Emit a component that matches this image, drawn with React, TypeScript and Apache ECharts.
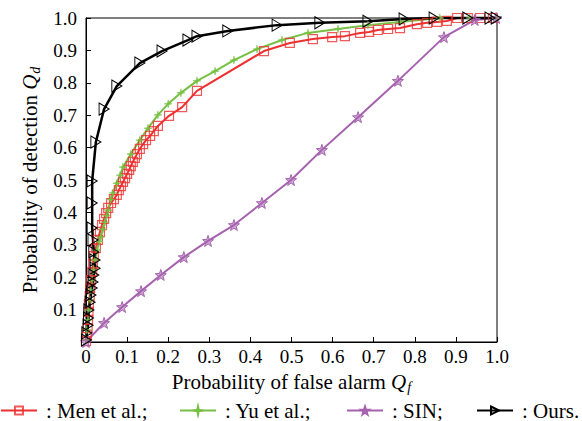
import React, { useEffect, useRef } from "react";
import * as echarts from "echarts";

const FONT = "Liberation Serif";

const xTicks = [0, 0.1, 0.2, 0.3, 0.4, 0.5, 0.6, 0.7, 0.8, 0.9, 1.0];
const yTicks = [0.1, 0.2, 0.3, 0.4, 0.5, 0.6, 0.7, 0.8, 0.9, 1.0];

const seriesNames = [": Men et al.;", ": Yu et al.;", ": SIN;", ": Ours."];

const menData = [
  [0, 0.003], [0.002, 0.022], [0.004, 0.043], [0.005, 0.068], [0.006, 0.093],
  [0.007, 0.117], [0.009, 0.142], [0.010, 0.167], [0.012, 0.191], [0.015, 0.216],
  [0.017, 0.241], [0.019, 0.265], [0.024, 0.290], [0.029, 0.315], [0.034, 0.340],
  [0.039, 0.361], [0.044, 0.380], [0.049, 0.398], [0.054, 0.414], [0.061, 0.429],
  [0.068, 0.441], [0.075, 0.454], [0.080, 0.469], [0.085, 0.481], [0.090, 0.494],
  [0.095, 0.506], [0.100, 0.519], [0.105, 0.531], [0.109, 0.543], [0.114, 0.556],
  [0.119, 0.568], [0.124, 0.580], [0.131, 0.596], [0.139, 0.611], [0.146, 0.623],
  [0.156, 0.636], [0.165, 0.651], [0.175, 0.667], [0.202, 0.698], [0.234, 0.725],
  [0.270, 0.775], [0.433, 0.898], [0.496, 0.923], [0.552, 0.935], [0.599, 0.941],
  [0.630, 0.944], [0.667, 0.954], [0.689, 0.957], [0.710, 0.963], [0.735, 0.966],
  [0.764, 0.969], [0.805, 0.981], [0.830, 0.985], [0.854, 0.988], [0.878, 0.991],
  [0.903, 1.0], [0.929, 1.0], [0.959, 1.0], [0.990, 1.0],
];

const yuData = [
  [0, 0.006], [0.002, 0.037], [0.005, 0.068], [0.007, 0.099], [0.010, 0.130],
  [0.012, 0.160], [0.015, 0.191], [0.019, 0.222], [0.022, 0.253], [0.027, 0.284],
  [0.032, 0.310], [0.036, 0.324], [0.041, 0.348], [0.046, 0.370], [0.050, 0.390],
  [0.054, 0.407], [0.060, 0.440], [0.066, 0.460], [0.075, 0.490], [0.083, 0.515],
  [0.090, 0.540], [0.109, 0.580], [0.131, 0.623], [0.151, 0.660], [0.175, 0.701],
  [0.200, 0.735], [0.231, 0.769], [0.270, 0.806], [0.314, 0.836], [0.360, 0.870],
  [0.416, 0.904], [0.477, 0.932], [0.540, 0.954], [0.613, 0.966], [0.686, 0.978],
  [0.764, 0.988], [0.861, 1.0], [0.934, 1.0], [0.998, 1.0],
];

const sinData = [
  [0, 0], [0.044, 0.059], [0.088, 0.108], [0.134, 0.157], [0.182, 0.207],
  [0.238, 0.262], [0.297, 0.312], [0.360, 0.361], [0.428, 0.429], [0.499, 0.5],
  [0.574, 0.593], [0.662, 0.694], [0.759, 0.806], [0.871, 0.941], [0.946, 0.994],
  [0.998, 1.0],
];

const oursData = [
  [0.001, 0.006], [0.002, 0.028], [0.005, 0.052], [0.006, 0.074], [0.007, 0.099],
  [0.010, 0.123], [0.012, 0.145], [0.015, 0.167], [0.017, 0.185], [0.019, 0.207],
  [0.022, 0.228], [0.022, 0.253], [0.019, 0.278], [0.017, 0.315], [0.015, 0.352],
  [0.015, 0.429], [0.015, 0.497], [0.024, 0.617], [0.044, 0.719], [0.075, 0.790],
  [0.131, 0.861], [0.185, 0.898], [0.248, 0.932], [0.270, 0.944], [0.345, 0.960],
  [0.465, 0.978], [0.569, 0.985], [0.686, 0.990], [0.774, 0.997], [0.847, 1.0],
  [0.929, 1.0], [0.983, 1.0], [0.998, 1.0],
];

const RED = "#EE3030";
const GREEN = "#76C043";
const PURPLE = "#A561AE";
const BLACK = "#000000";

const SQUARE = "path://M0,0 L10,0 L10,10 L0,10 Z";
const PLUS = "path://M5,0 L5.9,4.1 L10,5 L5.9,5.9 L5,10 L4.1,5.9 L0,5 L4.1,4.1 Z";
const STAR = "path://M5,0 L6.2,3.6 L10,3.8 L7,6.1 L8.1,9.8 L5,7.6 L1.9,9.8 L3,6.1 L0,3.8 L3.8,3.6 Z";
const TRI = "path://M0,0 L10,5 L0,10 Z";

export default function App() {
  const ref = useRef<HTMLDivElement>(null);
  useEffect(() => {
    if (!ref.current) return;
    const chart = echarts.init(ref.current, null, { renderer: "svg" });
    const rich = {
      a: { fontFamily: FONT, fontSize: 21, color: "#000" },
      q: { fontFamily: FONT, fontSize: 21, fontStyle: "italic", color: "#000" },
      s: { fontFamily: FONT, fontSize: 14, fontStyle: "italic", color: "#000", padding: [11, 0, 0, 1] },
    };
    const legendBase = {
      orient: "horizontal",
      top: 395,
      padding: 5,
      itemWidth: 36,
      itemHeight: 10,
      textStyle: { fontFamily: FONT, fontSize: 21, lineHeight: 18, color: "#000", padding: [0, 0, 0, 4] },
    };
    const option = {
      animation: false,
      backgroundColor: "#fff",
      textStyle: { fontFamily: FONT },
      grid: {
        left: 86, right: 85, top: 18, bottom: 79,
        show: true, borderColor: "#000", borderWidth: 1,
      },
      legend: [
        { ...legendBase, left: -5, data: [seriesNames[0]] },
        { ...legendBase, left: 174, data: [seriesNames[1]] },
        { ...legendBase, left: 341, data: [seriesNames[2]] },
        { ...legendBase, left: 471, data: [seriesNames[3]] },
      ],
      xAxis: {
        type: "value",
        min: 0,
        max: 1,
        interval: 0.1,
        name: "{a|Probability of false alarm }{q|Q}{s|f}",
        nameLocation: "middle",
        nameGap: 27,
        nameTextStyle: { fontFamily: FONT, rich },
        axisLine: { lineStyle: { color: "#000", width: 1 } },
        axisTick: { inside: true, length: 5, lineStyle: { color: "#000" } },
        splitLine: { show: false },
        axisLabel: {
          margin: 5,
          fontFamily: FONT,
          fontSize: 19,
          color: "#000",
          formatter: (v: number) => {
            const t = xTicks.find((k) => Math.abs(k - v) < 1e-6);
            if (t === undefined) return "";
            return t === 0 ? "0" : t.toFixed(1);
          },
        },
      },
      yAxis: {
        type: "value",
        min: 0,
        max: 1,
        interval: 0.1,
        name: "{a|Probability of detection }{q|Q}{s|d}",
        nameLocation: "middle",
        nameRotate: 90,
        nameGap: 37,
        nameTextStyle: { fontFamily: FONT, rich },
        axisLine: { lineStyle: { color: "#000", width: 1 } },
        axisTick: { inside: true, length: 5, lineStyle: { color: "#000" } },
        splitLine: { show: false },
        axisLabel: {
          margin: 9,
          fontFamily: FONT,
          fontSize: 19,
          color: "#000",
          formatter: (v: number) => {
            const t = yTicks.find((k) => Math.abs(k - v) < 1e-6);
            return t === undefined ? "" : t.toFixed(1);
          },
        },
      },
      series: [
        {
          name: seriesNames[0],
          type: "line",
          data: menData,
          symbol: SQUARE,
          symbolSize: 9,
          clip: false,
          lineStyle: { color: RED, width: 2 },
          itemStyle: { color: "rgba(0,0,0,0)", borderColor: "rgba(238,48,48,0.8)", borderWidth: 1.2 },
        },
        {
          name: seriesNames[1],
          type: "line",
          data: yuData,
          symbol: PLUS,
          symbolSize: 8,
          clip: false,
          lineStyle: { color: GREEN, width: 2 },
          itemStyle: { color: GREEN, borderColor: GREEN, borderWidth: 0.5 },
        },
        {
          name: seriesNames[2],
          type: "line",
          data: sinData,
          symbol: STAR,
          symbolSize: 11,
          clip: false,
          lineStyle: { color: PURPLE, width: 2 },
          itemStyle: { color: "rgba(165,97,174,0.55)", borderColor: PURPLE, borderWidth: 1 },
        },
        {
          name: seriesNames[3],
          type: "line",
          data: oursData,
          symbol: TRI,
          symbolSize: [10, 12],
          clip: false,
          lineStyle: { color: BLACK, width: 2.5 },
          itemStyle: { color: "rgba(0,0,0,0)", borderColor: BLACK, borderWidth: 1 },
        },
      ],
    };
    chart.setOption(option as any);
    return () => chart.dispose();
  }, []);
  return (
    <div
      ref={ref}
      style={{ position: "absolute", left: 0, top: 0, width: 582, height: 421, background: "#fff" }}
    />
  );
}
